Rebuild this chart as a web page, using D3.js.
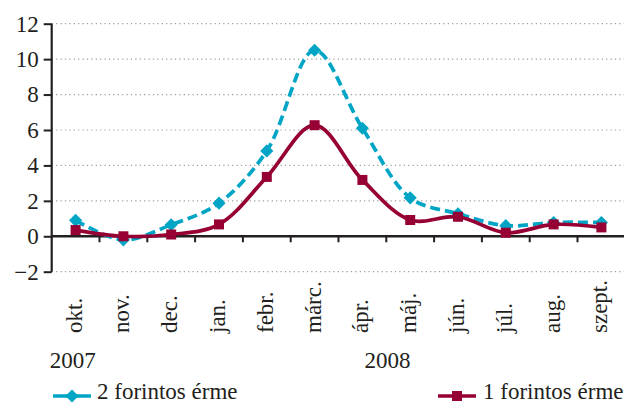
<!DOCTYPE html>
<html>
<head>
<meta charset="utf-8">
<script src="https://cdn.jsdelivr.net/npm/d3@7"></script>
<style>
  html, body { margin: 0; padding: 0; background: #fff; }
  svg { display: block; }
  text { font-family: "Liberation Serif", "DejaVu Serif", serif; fill: #231f20; }
</style>
</head>
<body>
<script>
// ** Data
const months = ["okt.", "nov.", "dec.", "jan.", "febr.", "márc.", "ápr.", "máj.", "jún.", "júl.", "aug.", "szept."];
const twoForint = [0.9, -0.2, 0.65, 1.87, 4.82, 10.5, 6.1, 2.17, 1.27, 0.6, 0.78, 0.78];
const oneForint = [0.35, 0.0, 0.1, 0.67, 3.35, 6.27, 3.18, 0.92, 1.1, 0.2, 0.67, 0.5];
const yTicks = [-2, 0, 2, 4, 6, 8, 10, 12];
const years = ["2007", "2008"];
const yearMonths = ["okt.", "ápr."];
const series = [
  { name: "2 forintos érme", values: twoForint, color: "#00a5c6", dash: "10,5", marker: "diamond" },
  { name: "1 forintos érme", values: oneForint, color: "#960034", dash: null, marker: "square" }
];

// ** Layout
const width = 624, height = 405;
const plotLeft = 51.7, plotTop = 23.7, plotBottom = 271.7;
const step = 47.8;
const fontSize = "23px";

const svg = d3.select("body").append("svg")
  .attr("width", width)
  .attr("height", height);

const x = d3.scaleBand()
  .domain(months)
  .range([plotLeft, plotLeft + months.length * step])
  .padding(0);
const cx = m => x(m) + x.bandwidth() / 2;

const y = d3.scaleLinear()
  .domain([-2, 12])
  .range([plotBottom, plotTop]);

// gridlines (dotted)
svg.append("g")
  .selectAll("line")
  .data(yTicks.filter(t => t !== 0))
  .join("line")
  .attr("x1", plotLeft)
  .attr("x2", width)
  .attr("y1", d => y(d))
  .attr("y2", d => y(d))
  .attr("stroke", "#9a9a9a")
  .attr("stroke-width", 1.2)
  .attr("stroke-dasharray", "1.2,3.2");

// y axis
const yAxis = svg.append("g")
  .attr("transform", `translate(${plotLeft},0)`)
  .call(d3.axisLeft(y).tickValues(yTicks).tickSize(8).tickPadding(5)
    .tickFormat(d => (d < 0 ? "\u2212" + Math.abs(d) : d)));
yAxis.select(".domain").attr("stroke", "#231f20").attr("stroke-width", 2.2)
  .attr("d", `M0,${plotTop}V${plotBottom}`);
yAxis.selectAll(".tick line").attr("stroke", "#231f20").attr("stroke-width", 2);
yAxis.selectAll(".tick text")
  .style("font-family", '"Liberation Serif", serif')
  .style("font-size", fontSize)
  .attr("fill", "#231f20");

// x axis line at zero with ticks between categories
svg.append("line")
  .attr("x1", plotLeft).attr("x2", width)
  .attr("y1", y(0)).attr("y2", y(0))
  .attr("stroke", "#231f20")
  .attr("stroke-width", 2.4);
svg.append("g")
  .selectAll("line")
  .data(months.slice(1))
  .join("line")
  .attr("x1", d => x(d))
  .attr("x2", d => x(d))
  .attr("y1", y(0))
  .attr("y2", y(0) + 6)
  .attr("stroke", "#231f20")
  .attr("stroke-width", 2);

// month labels (rotated, below plot)
svg.append("g")
  .selectAll("text")
  .data(months)
  .join("text")
  .attr("transform", d => `translate(${cx(d) + 6},333) rotate(-90)`)
  .attr("text-anchor", "start")
  .style("font-size", fontSize)
  .text(d => d);

// year labels
svg.append("g")
  .selectAll("text")
  .data(years)
  .join("text")
  .attr("x", (d, i) => (i === 0 ? x(yearMonths[i]) - 2 : cx(yearMonths[i]) + 2))
  .attr("y", 368)
  .style("font-size", fontSize)
  .text(d => d);

// series lines
const line = d3.line()
  .x((d, i) => cx(months[i]))
  .y(d => y(d))
  .curve(d3.curveCatmullRom.alpha(0.5));

const diamond = d3.symbol().type(d3.symbolDiamond2).size(110);
const square = s => `M${-s / 2},${-s / 2}h${s}v${s}h${-s}Z`;

series.forEach(s => {
  const g = svg.append("g");
  g.append("path")
    .datum(s.values)
    .attr("d", line)
    .attr("fill", "none")
    .attr("stroke", s.color)
    .attr("stroke-width", 3.7)
    .attr("stroke-dasharray", s.dash);
  g.selectAll(".m")
    .data(s.values)
    .join("path")
    .attr("transform", (d, i) => `translate(${cx(months[i])},${y(d)})`)
    .attr("d", s.marker === "diamond" ? diamond() : square(10))
    .attr("fill", s.color);
});

// legend
const legendPos = [{ lx: 53, tx: 97 }, { lx: 438, tx: 483 }];
const legend = svg.append("g")
  .selectAll("g")
  .data(series)
  .join("g")
  .attr("transform", "translate(0,396)");
legend.append("line")
  .attr("x1", (d, i) => legendPos[i].lx)
  .attr("x2", (d, i) => legendPos[i].lx + 38)
  .attr("stroke", d => d.color)
  .attr("stroke-width", 3.7);
legend.append("path")
  .attr("transform", (d, i) => `translate(${legendPos[i].lx + 19},0)`)
  .attr("d", d => (d.marker === "diamond" ? diamond() : square(10)))
  .attr("fill", d => d.color);
legend.append("text")
  .attr("x", (d, i) => legendPos[i].tx)
  .attr("y", 3)
  .style("font-size", fontSize)
  .text(d => d.name);
</script>
</body>
</html>
